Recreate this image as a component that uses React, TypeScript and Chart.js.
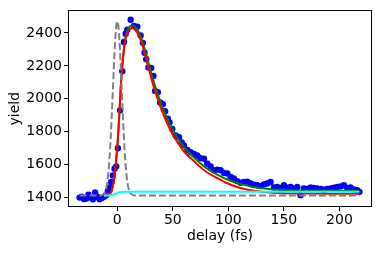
import { useEffect, useRef } from 'react';
import { Chart, registerables } from 'chart.js';

Chart.register(...registerables);

// measured data points
const dataX = [-34, -32, -30, -28, -26, -24, -22, -20, -18, -16, -14, -12, -10,
  -8.5, -7, -5.5, -4, -2.5, -1, 0.5, 2.5, 4.5, 6, 7.5, 9, 12,
  15, 18, 21, 23, 24.5, 26, 28, 30.5, 32.5, 34, 36.5, 38.5, 41, 43, 45.5, 47, 49.5, 52.5, 55.5, 58, 60,
  63, 66, 69, 72, 75, 78, 81, 84, 87, 90, 93, 96, 99, 102, 105, 108, 111, 114, 117, 120, 123, 126, 129,
  132, 135, 138, 141, 144, 147, 150, 153, 156, 159, 162, 165, 168, 171, 174, 177, 180, 183, 186, 189,
  192, 195, 198, 201, 204, 207, 210, 213, 216, 218];
const dataY = [1400, 1405, 1392, 1395, 1418, 1400, 1390, 1432, 1405, 1390, 1398, 1405, 1415,
  1440, 1462, 1495, 1535, 1575, 1590, 1700, 1930, 2168, 2345, 2395, 2420, 2480,
  2442, 2438, 2385, 2340, 2280, 2240, 2190, 2187, 2139, 2048, 2040, 1978, 1968, 1925, 1880, 1857, 1817, 1777, 1767, 1735, 1717,
  1690, 1676, 1665, 1656, 1640, 1636, 1606, 1590, 1566, 1570, 1566, 1550, 1546, 1525, 1516, 1500, 1490, 1495, 1497, 1486, 1478, 1475, 1470,
  1480, 1486, 1495, 1462, 1465, 1458, 1475, 1460, 1465, 1455, 1465, 1415, 1455, 1452, 1462, 1458, 1455, 1452, 1448, 1452,
  1455, 1460, 1465, 1468, 1475, 1458, 1462, 1450, 1445, 1435];

// fit curves
const fitX = [-12, -8, -6, -5, -4, -3, -2, -1, 0, 1, 2, 3, 4, 5, 6, 7, 8, 10, 12, 14, 16, 18, 20, 22, 24,
  28, 32, 36, 40, 45, 50, 55, 60, 70, 80, 90, 100, 110, 120, 130, 140, 150, 170, 190, 218];
const redY = [1421, 1422, 1428, 1445, 1470, 1505, 1560, 1630, 1710, 1810, 1930, 2060, 2160, 2240, 2300, 2350, 2383,
  2413, 2426, 2428, 2420, 2402, 2375, 2340, 2290, 2190, 2090, 2005, 1930, 1850, 1782, 1728, 1680,
  1615, 1557, 1518, 1484, 1460, 1445, 1436, 1430, 1427, 1425, 1424, 1424];
const greenY = [1421, 1422, 1428, 1445, 1470, 1505, 1560, 1630, 1710, 1810, 1930, 2060, 2160, 2240, 2305, 2358, 2393,
  2428, 2443, 2446, 2438, 2420, 2395, 2362, 2318, 2220, 2120, 2035, 1960, 1880, 1812, 1755, 1706,
  1638, 1580, 1540, 1507, 1485, 1468, 1457, 1450, 1446, 1442, 1441, 1440];

// step component
const cyanX = [-12, -8, -6, -4, -2, 0, 2, 4, 6, 8, 10, 218];
const cyanY = [1412, 1413, 1415, 1418, 1423, 1428, 1432, 1434, 1435, 1436, 1436, 1436];

// instrument response (dashed)
const irfX = [-34, -16, -14, -12, -11, -10, -9, -8, -7, -6, -5, -4, -3, -2, -1, 0,
  1, 2, 3, 4, 5, 6, 7, 8, 9, 10, 11, 12, 14, 16, 218];
const irfY = [1413, 1413, 1415, 1425, 1437, 1459, 1497, 1556, 1642, 1756, 1897, 2054, 2211, 2346, 2437, 2470,
  2437, 2346, 2211, 2054, 1897, 1756, 1642, 1556, 1497, 1459, 1437, 1425, 1415, 1413, 1413];

const xTicks = [0, 50, 100, 150, 200];
const yTicks = [1400, 1600, 1800, 2000, 2200, 2400];

const zip = (xs: number[], ys: number[]) => xs.map((x, i) => ({ x, y: ys[i] }));

const framePlugin = {
  id: 'frame',
  afterDatasetsDraw(chart: any) {
    const { ctx, chartArea } = chart;
    const { left, top, right, bottom } = chartArea;
    ctx.save();
    ctx.strokeStyle = '#000';
    ctx.lineWidth = 1;
    ctx.strokeRect(Math.round(left) + 0.5, Math.round(top) + 0.5, Math.round(right - left) - 1, Math.round(bottom - top) - 1);
    ctx.restore();
  },
};

export default function App() {
  const ref = useRef<HTMLCanvasElement | null>(null);
  useEffect(() => {
    if (!ref.current) return;
    const font = { family: 'DejaVu Sans', size: 14 };
    const line = (data: any, color: string, extra: any = {}) => ({
      type: 'line',
      data,
      borderColor: color,
      borderWidth: 2,
      pointRadius: 0,
      showLine: true,
      fill: false,
      cubicInterpolationMode: 'monotone',
      ...extra,
    });
    const chart = new Chart(ref.current, {
      type: 'line',
      data: {
        datasets: [
          line(zip(irfX, irfY), '#808080', { borderDash: [7, 3] }),
          line(zip(cyanX, cyanY), '#00ffff'),
          line(zip(fitX, redY), '#ff0000'),
          line(zip(fitX, greenY), '#008000'),
          {
            type: 'line',
            data: zip(dataX, dataY),
            showLine: false,
            pointRadius: 3.2,
            pointBorderWidth: 0,
            pointBackgroundColor: '#0000ff',
            borderColor: '#0000ff',
          },
        ] as any,
      },
      options: {
        animation: false,
        responsive: false,
        devicePixelRatio: 1,
        events: [],
        layout: { padding: { left: 0, right: 10, top: 9, bottom: 0 } },
        plugins: { legend: { display: false }, tooltip: { enabled: false } },
        scales: {
          x: {
            type: 'linear',
            min: -44.4,
            max: 229.3,
            afterFit: (s: any) => { s.height = 47; },
            afterBuildTicks: (s: any) => { s.ticks = xTicks.map((v) => ({ value: v })); },
            grid: { drawOnChartArea: false, drawTicks: true, tickLength: 4, color: '#000' },
            border: { display: false },
            ticks: { font, color: '#000', padding: 1, maxRotation: 0, callback: (v: any) => String(v) },
            title: { display: true, text: 'delay (fs)', font, color: '#000', padding: { top: 0, bottom: 9 } },
          },
          y: {
            type: 'linear',
            min: 1343,
            max: 2537,
            afterFit: (s: any) => { s.width = 68; },
            afterBuildTicks: (s: any) => { s.ticks = yTicks.map((v) => ({ value: v })); },
            grid: { drawOnChartArea: false, drawTicks: true, tickLength: 4, color: '#000' },
            border: { display: false },
            ticks: { font, color: '#000', padding: 2, callback: (v: any) => String(v) },
            title: { display: true, text: 'yield', font, color: '#000', padding: { top: 7, bottom: 0 } },
          },
        },
      },
      plugins: [framePlugin],
    } as any);
    return () => chart.destroy();
  }, []);
  return (
    <div style={{ position: 'absolute', left: 0, top: 0, width: 382, height: 254, background: '#fff' }}>
      <canvas ref={ref} width={382} height={254} style={{ display: 'block' }} />
    </div>
  );
}
